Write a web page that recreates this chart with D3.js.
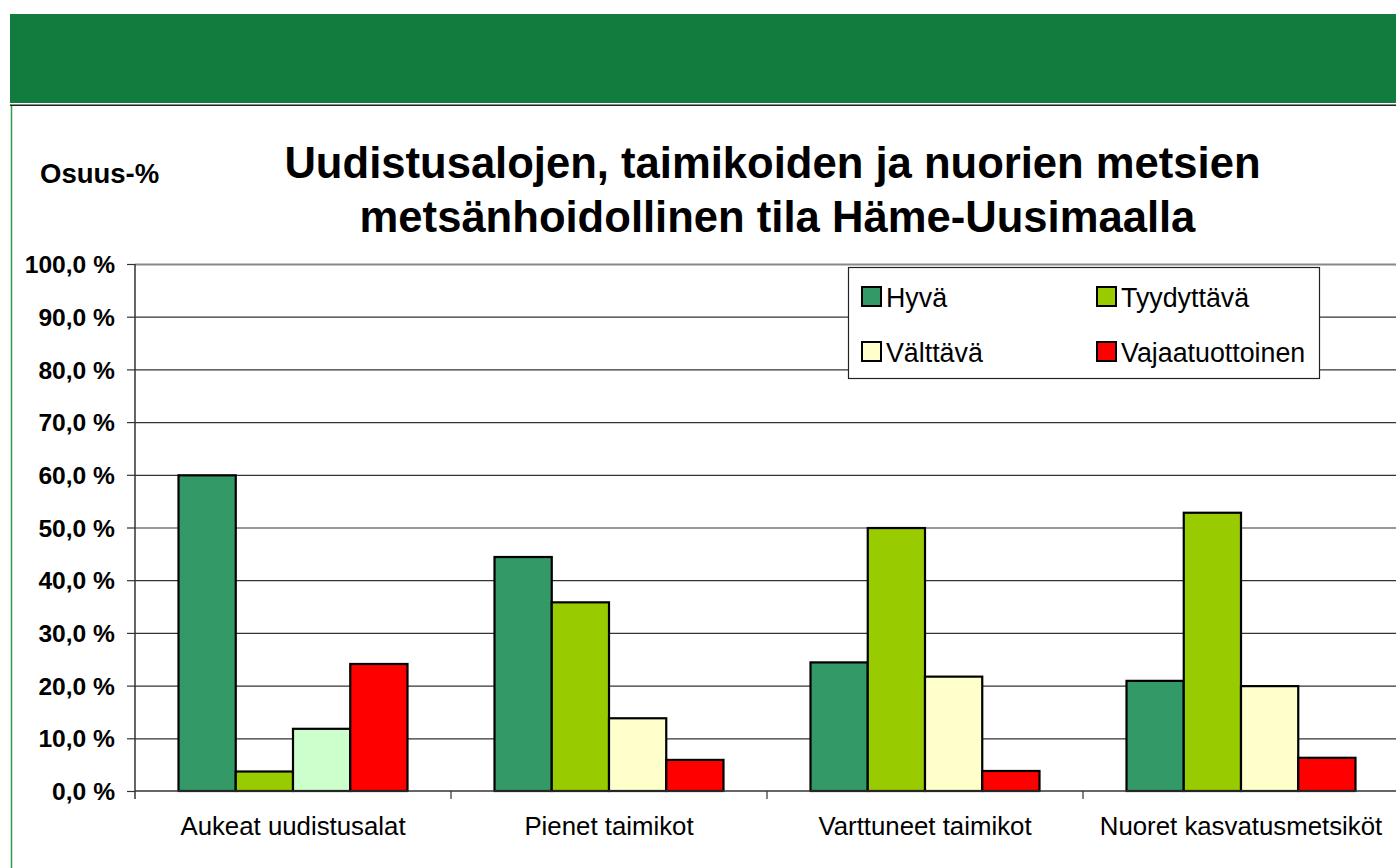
<!DOCTYPE html>
<html>
<head>
<meta charset="utf-8">
<script src="https://cdn.jsdelivr.net/npm/d3@7"></script>
<style>
  html, body { margin: 0; padding: 0; background: #fff; }
  svg { display: block; font-family: "Liberation Sans", Arial, sans-serif; }
</style>
</head>
<body>
<svg id="chart" width="1396" height="868"></svg>
<script>
// ---- data ----
const categories = ["Aukeat uudistusalat", "Pienet taimikot", "Varttuneet taimikot", "Nuoret kasvatusmetsiköt"];
const seriesNames = ["Hyvä", "Tyydyttävä", "Välttävä", "Vajaatuottoinen"];
const hyva = [59.9, 44.4, 24.4, 20.9];
const tyydyttava = [3.7, 35.8, 49.9, 52.8];
const valttava = [11.8, 13.8, 21.7, 19.9];
const vajaatuottoinen = [24.1, 5.9, 3.8, 6.3];
const yTicks = [0, 10, 20, 30, 40, 50, 60, 70, 80, 90, 100];
const titleLines = ["Uudistusalojen, taimikoiden ja nuorien metsien", "metsänhoidollinen tila Häme-Uusimaalla"];
const yAxisTitle = "Osuus-%";

// ---- styles ----
const seriesColors = ["#339966", "#99CC00", "#FFFFCC", "#FF0000"];
const firstValttavaColor = "#CCFFCC";
const FONT = "'Liberation Sans', Arial, sans-serif";

const seriesValues = [hyva, tyydyttava, valttava, vajaatuottoinen];

(function () {
const svg = d3.select("#chart");

// banner
svg.append("rect").attr("x", 10).attr("y", 14).attr("width", 1386).attr("height", 89).attr("fill", "#127C3F");
svg.append("line").attr("x1", 10).attr("x2", 1396).attr("y1", 104.5).attr("y2", 104.5).attr("stroke", "#888").attr("stroke-width", 1);
svg.append("line").attr("x1", 10).attr("x2", 1396).attr("y1", 105.5).attr("y2", 105.5).attr("stroke", "#222").attr("stroke-width", 1);
svg.append("line").attr("x1", 11.5).attr("x2", 11.5).attr("y1", 106).attr("y2", 868).attr("stroke", "#2E9C50").attr("stroke-width", 1.5);

// titles
svg.append("text").attr("x", 772.5).attr("y", 178).attr("text-anchor", "middle").attr("font-family", FONT)
  .attr("font-size", 43.6).attr("font-weight", "bold").text(titleLines[0]);
svg.append("text").attr("x", 777.5).attr("y", 232).attr("text-anchor", "middle").attr("font-family", FONT)
  .attr("font-size", 43.6).attr("font-weight", "bold").text(titleLines[1]);
svg.append("text").attr("x", 40).attr("y", 183).attr("font-size", 27.5).attr("font-weight", "bold")
  .attr("font-family", FONT).text(yAxisTitle);

// scales
const pLeft = 135, pRight = 1399, pTop = 264, pBottom = 791;
const x0 = d3.scaleBand().domain(categories).range([pLeft, pRight]).paddingInner(0).paddingOuter(0);
const x1 = d3.scaleBand().domain(seriesNames).range([0, x0.bandwidth()]).paddingInner(0).paddingOuter(0.76);
const y = d3.scaleLinear().domain([0, 100]).range([pBottom, pTop]);

// gridlines
const grid = svg.append("g").attr("transform", `translate(${pLeft},0)`)
  .call(d3.axisLeft(y).tickValues(yTicks.slice(1)).tickSize(-(pRight - pLeft)).tickFormat(""));
grid.select(".domain").remove();
grid.selectAll("line").attr("stroke", "#333").attr("stroke-width", 1.2);
grid.selectAll(".tick").filter(d => d === 100).select("line").attr("stroke", "#888").attr("stroke-width", 2);

// bars
const rows = categories.map((c, i) => ({ c, i, vals: seriesNames.map((s, j) => ({ s, j, v: seriesValues[j][i] })) }));
const cg = svg.append("g").selectAll("g").data(rows).join("g")
  .attr("transform", d => `translate(${x0(d.c)},0)`);
cg.selectAll("rect").data(d => d.vals.map(v => ({ ...v, ci: d.i }))).join("rect")
  .attr("x", d => x1(d.s))
  .attr("width", x1.bandwidth())
  .attr("y", d => y(d.v))
  .attr("height", d => y(0) - y(d.v))
  .attr("fill", d => (d.ci === 0 && d.j === 2) ? firstValttavaColor : seriesColors[d.j])
  .attr("stroke", "#000").attr("stroke-width", 2.2);

// y axis
const ya = svg.append("g").attr("transform", `translate(${pLeft},0)`)
  .call(d3.axisLeft(y).tickValues(yTicks).tickSize(8).tickPadding(12)
    .tickFormat(d => d.toFixed(1).replace(".", ",") + " %"));
ya.select(".domain").attr("stroke", "#333").attr("stroke-width", 1.5).attr("d", `M0,${pTop}V${pBottom + 8}`);
ya.selectAll("line").attr("stroke", "#333").attr("stroke-width", 1.2);
ya.selectAll("text").attr("font-size", 24.6).attr("font-weight", "bold").attr("fill", "#000")
  .attr("font-family", FONT).attr("dy", "0.35em");

// x axis
const xa = svg.append("g").attr("transform", `translate(0,${pBottom})`)
  .call(d3.axisBottom(x0).tickSize(0).tickPadding(0));
xa.select(".domain").remove();
xa.selectAll("text").attr("font-size", 25.8).attr("fill", "#000").attr("y", 44).attr("dy", "0")
  .attr("font-family", FONT);
svg.append("line").attr("x1", pLeft).attr("x2", 1396).attr("y1", pBottom).attr("y2", pBottom)
  .attr("stroke", "#333").attr("stroke-width", 1.5);
svg.append("g").selectAll("line").data(categories.slice(1)).join("line")
  .attr("x1", d => x0(d)).attr("x2", d => x0(d)).attr("y1", pBottom).attr("y2", pBottom + 8)
  .attr("stroke", "#333").attr("stroke-width", 1.2);

// legend
const lg = svg.append("g");
lg.append("rect").attr("x", 848.5).attr("y", 267.5).attr("width", 471).attr("height", 111)
  .attr("fill", "#fff").attr("stroke", "#222").attr("stroke-width", 1.2);
const legPos = [[862, 287], [1097, 287], [862, 342], [1097, 342]];
const li = lg.selectAll("g.item").data(seriesNames).join("g").attr("class", "item")
  .attr("transform", (d, i) => `translate(${legPos[i][0]},${legPos[i][1]})`);
li.append("rect").attr("x", 0).attr("y", 0).attr("width", 19).attr("height", 19)
  .attr("fill", (d, i) => seriesColors[i]).attr("stroke", "#000").attr("stroke-width", 2);
li.append("text").attr("x", 24).attr("y", 19.5).attr("font-size", 26.8).attr("fill", "#000")
  .attr("font-family", FONT).text(d => d);
})();
</script>
</body>
</html>
